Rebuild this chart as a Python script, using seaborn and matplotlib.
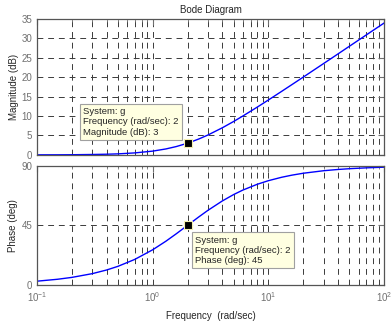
import matplotlib
matplotlib.use('Agg')
import matplotlib.pyplot as plt
import numpy as np
import pandas as pd
import seaborn as sns
from matplotlib.ticker import LogLocator, NullFormatter, FixedLocator

# values
freq = [0.1, 0.15, 0.2, 0.3, 0.4, 0.5, 0.7, 1, 1.3, 1.6, 2, 2.5, 3, 4, 5, 6,
        8, 10, 13, 16, 20, 30, 40, 50, 70, 100]
mag_db = [0.01, 0.02, 0.04, 0.10, 0.17, 0.26, 0.51, 0.97, 1.53, 2.15, 3.01,
          4.09, 5.12, 6.99, 8.60, 10.0, 12.30, 14.15, 16.36, 18.13, 20.04,
          23.54, 26.03, 27.97, 30.89, 33.98]
phase_deg = [2.86, 4.29, 5.71, 8.53, 11.31, 14.04, 19.29, 26.57, 33.02, 38.66,
             45.0, 51.34, 56.31, 63.43, 68.20, 71.57, 75.96, 78.69, 81.25,
             82.87, 84.29, 86.19, 87.14, 87.71, 88.36, 88.85]
cursor_w = 2
cursor_mag = 3
cursor_phase = 45

df = pd.DataFrame({'w': freq, 'mag': mag_db, 'phase': phase_deg})

sns.set_style('white')
plt.rcParams['font.family'] = ['Liberation Sans', 'DejaVu Sans']
plt.rcParams['font.size'] = 7

fig = plt.figure(figsize=(3.91, 3.22), dpi=100)
ax1 = fig.add_axes([0.0946, 0.519, 0.888, 0.422])
ax2 = fig.add_axes([0.0946, 0.115, 0.888, 0.3705])

grey = '#707070'
grid_kw = dict(color='#3a3a3a', linestyle=(0, (6, 5)), linewidth=0.7)

for ax in (ax1, ax2):
    ax.set_xscale('log')
    ax.set_xlim(0.1, 100)
    ax.xaxis.set_major_locator(LogLocator(base=10, numticks=10))
    ax.xaxis.set_minor_locator(LogLocator(base=10, subs=np.arange(2, 10), numticks=20))
    ax.xaxis.set_minor_formatter(NullFormatter())
    ax.grid(True, which='both', axis='x', **grid_kw)
    ax.grid(True, which='major', axis='y', **grid_kw)
    ax.tick_params(which='both', direction='in', colors=grey, labelsize=7,
                   top=True, right=True)
    ax.tick_params(which='major', length=4)
    ax.tick_params(which='minor', length=2)
    for s in ax.spines.values():
        s.set_color('#555555')
        s.set_linewidth(0.9)

sns.lineplot(data=df, x='w', y='mag', ax=ax1, color='#0000ff', linewidth=1)
sns.lineplot(data=df, x='w', y='phase', ax=ax2, color='#0000ff', linewidth=1)

ax1.set_ylim(0, 35)
ax1.yaxis.set_major_locator(FixedLocator([0, 5, 10, 15, 20, 25, 30, 35]))
ax1.tick_params(axis='x', labelbottom=False)
ax1.set_xlabel('')
ax1.set_ylabel('Magnitude (dB)', fontsize=7, labelpad=2)
ax1.set_title('Bode Diagram', fontsize=7, pad=4)

ax2.set_ylim(0, 90)
ax2.yaxis.set_major_locator(FixedLocator([0, 45, 90]))
ax2.set_ylabel('Phase (deg)', fontsize=7, labelpad=2)
ax2.set_xlabel('Frequency  (rad/sec)', fontsize=7, labelpad=5)

for ax, yv in ((ax1, cursor_mag), (ax2, cursor_phase)):
    ax.plot([cursor_w], [yv], marker='s', markersize=6, color='black',
            markeredgecolor='#f5f0b0', markeredgewidth=0.8, zorder=5)

box = dict(boxstyle='square,pad=0.35', facecolor='#ffffe1', edgecolor='#a0a0a0', linewidth=0.8)
ax1.text(0.133, 0.135, 'System: g\nFrequency (rad/sec): 2\nMagnitude (dB): 3',
         transform=ax1.transAxes, fontsize=6.8, va='bottom', ha='left',
         linespacing=1.15, bbox=box, zorder=6)
ax2.text(0.456, 0.17, 'System: g\nFrequency (rad/sec): 2\nPhase (deg): 45',
         transform=ax2.transAxes, fontsize=6.8, va='bottom', ha='left',
         linespacing=1.15, bbox=box, zorder=6)

fig.savefig('out.png', dpi=100)
